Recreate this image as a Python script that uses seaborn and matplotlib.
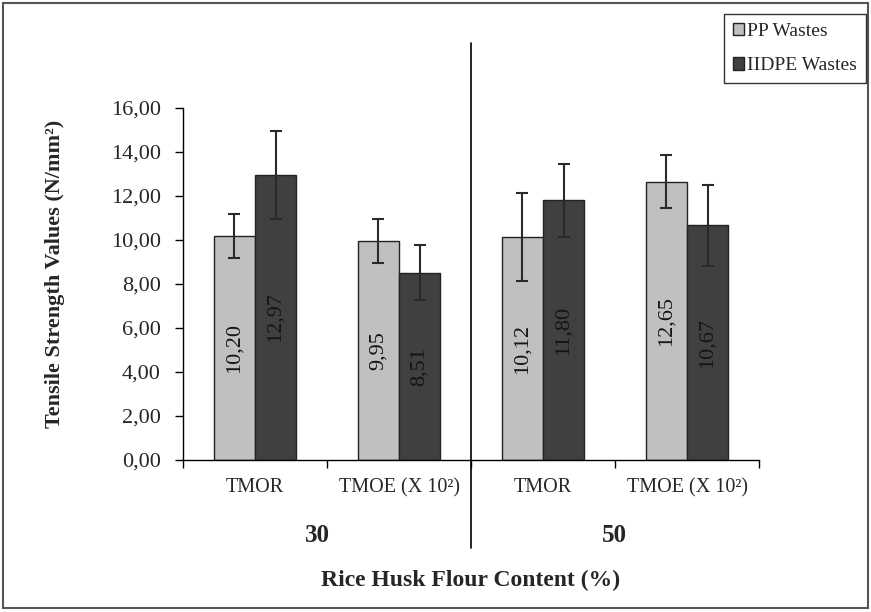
import matplotlib
matplotlib.use("Agg")
import matplotlib.pyplot as plt
from matplotlib.patches import Rectangle, Patch
from matplotlib.lines import Line2D
import seaborn as sns
import pandas as pd

# ---- data ----
categories = ["30 TMOR", "30 TMOE", "50 TMOR", "50 TMOE"]
tick_labels = ["TMOR", "TMOE (X 10²)", "TMOR", "TMOE (X 10²)"]
group_labels = ["30", "50"]
series = ["PP Wastes", "HDPE Wastes"]
pp_values = [10.20, 9.95, 10.12, 12.65]
hdpe_values = [12.97, 8.51, 11.80, 10.67]
pp_errors = [1.00, 1.00, 2.00, 1.20]
hdpe_errors = [2.00, 1.25, 1.65, 1.83]
legend_labels = ["PP Wastes", "IIDPE Wastes"]

sns.set_theme(style="white")
plt.rcParams["font.family"] = ["Liberation Serif", "DejaVu Serif"]

df = pd.DataFrame({
    "cat": categories * 2,
    "series": [series[0]] * 4 + [series[1]] * 4,
    "value": pp_values + hdpe_values,
})

colors = {"PP Wastes": "#c0c0c0", "HDPE Wastes": "#404040"}

fig = plt.figure(figsize=(8.71, 6.12), dpi=100)
ax = fig.add_axes([183 / 871, 1 - 460 / 612, (759 - 183) / 871, (460 - 108) / 612])

sns.barplot(data=df, x="cat", y="value", hue="series", order=categories,
            hue_order=series, palette=colors, width=0.57, legend=False,
            edgecolor="#222222", linewidth=1.0, saturation=1, ax=ax, errorbar=None)

errs = [pp_errors, hdpe_errors]
vals = [pp_values, hdpe_values]
for cont, ev, vv in zip(ax.containers, errs, vals):
    xs = [p.get_x() + p.get_width() / 2 for p in cont]
    ax.errorbar(xs, vv, yerr=ev, fmt="none", ecolor="#2a2a2a", elinewidth=1.5,
                capsize=4, capthick=1.5, zorder=5)
    for x, v in zip(xs, vv):
        ax.text(x, v / 2, f"{v:.2f}".replace(".", ","), rotation=90,
                ha="center", va="center", fontsize=16, color="#151515", zorder=6)

ax.set_xlim(-0.5, 3.5)
ax.set_ylim(0, 16)
ax.set_yticks(range(0, 17, 2))
ax.set_yticklabels([f"{v:.2f}".replace(".", ",") for v in range(0, 17, 2)], fontsize=16)
ax.set_xticks([-0.5, 0.5, 1.5, 2.5, 3.5])
ax.set_xticklabels([])
ax.set_xticks([0, 1, 2, 3], minor=True)
ax.set_xticklabels(tick_labels, minor=True, fontsize=14.5)
ax.tick_params(axis="x", which="major", direction="out", length=6, width=1, color="black", bottom=True)
ax.tick_params(axis="x", which="minor", length=0, pad=13)
ax.tick_params(axis="y", direction="out", length=6, width=1, color="black", pad=10, left=True)
ax.set_xlabel("")
ax.set_ylabel("")
for s in ["top", "right"]:
    ax.spines[s].set_visible(False)
for s in ["left", "bottom"]:
    ax.spines[s].set_color("black")
    ax.spines[s].set_linewidth(1.0)

# separator line between groups
fig.add_artist(Line2D([471 / 871, 471 / 871], [1 - 43 / 612, 1 - 548 / 612],
                      transform=fig.transFigure, color="black", linewidth=1.2))

# group labels
fig.text(317 / 871, 1 - 535 / 612, group_labels[0], ha="center", va="center",
         fontsize=18, fontweight="bold")
fig.text(614 / 871, 1 - 535 / 612, group_labels[1], ha="center", va="center",
         fontsize=18, fontweight="bold")

fig.text(471 / 871, 1 - 580 / 612, "Rice Husk Flour Content (%)", ha="center",
         va="center", fontsize=17, fontweight="bold")
fig.text(55 / 871, 1 - 274 / 612, "Tensile Strength Values (N/mm²)", ha="center",
         va="center", rotation=90, fontsize=16, fontweight="bold")

handles = [Patch(facecolor=colors[s], edgecolor="#222222") for s in series]
leg = fig.legend(handles, legend_labels, loc="upper right",
                 bbox_to_anchor=(866 / 871, 1 - 14 / 612), frameon=True,
                 fancybox=False, edgecolor="black", fontsize=14,
                 handlelength=0.6, handleheight=0.6, handletextpad=0.15,
                 borderaxespad=0, labelspacing=0.9, borderpad=0.45)
leg.get_frame().set_linewidth(1.0)

fig.add_artist(Rectangle((0.004, 0.006), 0.992, 0.989, transform=fig.transFigure,
                         fill=False, edgecolor="#555555", linewidth=1.5))

fig.savefig("out.png", dpi=100)
